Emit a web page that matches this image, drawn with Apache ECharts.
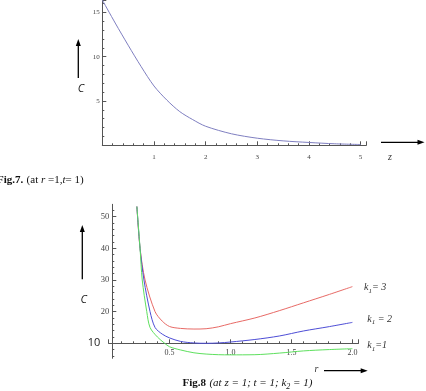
<!DOCTYPE html>
<html><head><meta charset="utf-8">
<script src="https://cdn.jsdelivr.net/npm/echarts@6/dist/echarts.min.js"></script>
<style>html,body{margin:0;padding:0;background:#fff}#c{width:426px;height:391px}</style>
</head><body><div id="c"></div>
<script>
// Fig.7 data: C vs z (r=1, t=1)
const zTop = [0, 0.25, 0.5, 0.75, 1.0, 1.25, 1.5, 1.75, 2.0, 2.5, 3.0, 3.5, 4.0, 4.5, 5.0];
const cTop = [16.4, 13.8, 11.3, 8.9, 6.7, 5.1, 3.8, 2.9, 2.15, 1.3, 0.8, 0.5, 0.32, 0.17, 0.09];
const topXTicks = [1, 2, 3, 4, 5];
const topYTicks = [5, 10, 15];

// Fig.8 data: C vs r for k1 = 3, 2, 1
const rK3 = [0.232, 0.258, 0.299, 0.381, 0.44, 0.5, 0.59, 0.7, 0.8, 0.9, 1.0, 1.2, 1.4, 1.6, 1.8, 2.0];
const cK3 = [53.2, 40, 30, 20, 17.0, 15.3, 14.7, 14.5, 14.6, 15.2, 16.2, 18.0, 20.3, 22.8, 25.3, 27.9];
const rK2 = [0.232, 0.258, 0.290, 0.340, 0.381, 0.44, 0.5, 0.59, 0.7, 0.8, 0.9, 1.0, 1.2, 1.4, 1.6, 1.8, 2.0];
const cK2 = [53.2, 40, 30, 20, 15, 12.9, 11.7, 10.6, 10.1, 10.0, 10.1, 10.4, 11.2, 12.3, 13.9, 15.2, 16.6];
const rK1 = [0.232, 0.258, 0.276, 0.313, 0.34, 0.40, 0.46, 0.5, 0.59, 0.7, 0.8, 0.9, 1.0, 1.2, 1.4, 1.6, 1.8, 2.0];
const cK1 = [53.2, 40, 30, 20, 15, 12.0, 10, 8.9, 7.9, 7.0, 6.6, 6.4, 6.35, 6.4, 6.9, 7.6, 8.0, 8.3];
const botXTicks = [0.5, 1.0, 1.5, 2.0];
const botYTicks = [10, 20, 30, 40, 50];
const botYMinor = [6, 8, 12, 14, 16, 18, 22, 24, 26, 28, 32, 34, 36, 38, 42, 44, 46, 48, 52];

const pairs = (xs, ys) => xs.map((x, i) => [x, ys[i]]);
const SERIF = "'Liberation Serif', 'DejaVu Serif', serif";
const AX = '#555';

const chart = echarts.init(document.getElementById('c'), null, {renderer: 'canvas'});
const near = (v, arr) => arr.some(t => Math.abs(t - v) < 1e-6);

const option = {
  animation: false,
  backgroundColor: '#fff',
  grid: [
    {left: 102.3, top: 0, width: 264, height: 145.3, containLabel: false, outerBoundsMode: 'none'},
    {left: 108.6, top: 204.3, width: 249.9, height: 154, containLabel: false, outerBoundsMode: 'none'}
  ],
  xAxis: [
    {gridIndex: 0, type: 'value', min: 0, max: 5.11, interval: 1,
     axisLine: {lineStyle: {color: AX, width: 1}},
     axisTick: {inside: true, length: 4, lineStyle: {color: AX}},
     minorTick: {show: true, splitNumber: 5, length: 2, lineStyle: {color: AX}},
     splitLine: {show: false}, minorSplitLine: {show: false},
     axisLabel: {margin: 8, fontSize: 7, fontFamily: SERIF, color: '#444', showMaxLabel: false,
       formatter: v => near(v, topXTicks) ? String(Math.round(v)) : ''}},
    {gridIndex: 1, type: 'value', min: 0, max: 2.05, interval: 0.5, offset: -15,
     axisLine: {onZero: false, lineStyle: {color: AX, width: 1}},
     axisTick: {inside: true, length: 4, lineStyle: {color: AX}},
     minorTick: {show: true, splitNumber: 5, length: 2, lineStyle: {color: AX}},
     splitLine: {show: false}, minorSplitLine: {show: false},
     axisLabel: {margin: 6, fontSize: 8, fontFamily: SERIF, color: '#444', showMaxLabel: false,
       formatter: v => near(v, botXTicks) ? v.toFixed(1) : ''}}
  ],
  yAxis: [
    {gridIndex: 0, type: 'value', min: 0, max: 16.4, interval: 5,
     axisLine: {show: true, onZero: false, lineStyle: {color: AX, width: 1}},
     axisTick: {show: true, inside: true, length: 4, lineStyle: {color: AX}},
     minorTick: {show: true, splitNumber: 5, length: 2, lineStyle: {color: AX}},
     splitLine: {show: false}, minorSplitLine: {show: false},
     axisLabel: {margin: 2.5, fontSize: 7, fontFamily: SERIF, color: '#444', showMaxLabel: false,
       formatter: v => near(v, topYTicks) ? String(Math.round(v)) : ''}},
    {gridIndex: 1, type: 'value', position: 'left', offset: -3.7, min: 5.26, max: 53.9,
     axisLine: {show: true, onZero: false, lineStyle: {color: AX, width: 1}},
     axisTick: {show: true, inside: true, length: 4, customValues: botYTicks, lineStyle: {color: AX}},
     splitLine: {show: false},
     axisLabel: {margin: 3, fontSize: 8.5, fontFamily: SERIF, color: '#444', customValues: botYTicks,
       formatter: v => Math.round(v) === 10 ? '{big|10}' : String(Math.round(v)),
       rich: {big: {fontSize: 11, fontFamily: "'Open Sans', 'Noto Sans', sans-serif", color: '#222', padding: [0, 9, 0, 0]}}}},
    {gridIndex: 1, type: 'value', position: 'left', offset: -3.7, min: 5.26, max: 53.9,
     axisLine: {show: false, onZero: false},
     axisTick: {show: true, inside: true, length: 2, customValues: botYMinor, lineStyle: {color: AX}},
     splitLine: {show: false},
     axisLabel: {show: false}}
  ],
  series: [
    {type: 'line', xAxisIndex: 0, yAxisIndex: 0, data: pairs(zTop, cTop), showSymbol: false, symbol: 'none',
     smooth: 0.3, lineStyle: {color: '#7f7fc0', width: 1}},
    {type: 'line', xAxisIndex: 1, yAxisIndex: 1, data: pairs(rK3, cK3), showSymbol: false, symbol: 'none',
     smooth: 0.3, lineStyle: {color: '#e86a66', width: 1}},
    {type: 'line', xAxisIndex: 1, yAxisIndex: 1, data: pairs(rK2, cK2), showSymbol: false, symbol: 'none',
     smooth: 0.3, lineStyle: {color: '#4d4dd6', width: 1}},
    {type: 'line', xAxisIndex: 1, yAxisIndex: 1, data: pairs(rK1, cK1), showSymbol: false, symbol: 'none',
     smooth: 0.3, lineStyle: {color: '#5ee05e', width: 1}}
  ],
  graphic: [
    // arrows
    {type: 'line', shape: {x1: 78.3, y1: 78, x2: 78.3, y2: 45}, style: {stroke: '#000', lineWidth: 1.3}},
    {type: 'polygon', shape: {points: [[78.3, 39], [75.8, 46], [80.8, 46]]}, style: {fill: '#000'}},
    {type: 'line', shape: {x1: 381, y1: 142.3, x2: 418, y2: 142.3}, style: {stroke: '#000', lineWidth: 1.3}},
    {type: 'polygon', shape: {points: [[424.5, 142.3], [417.5, 139.8], [417.5, 144.8]]}, style: {fill: '#000'}},
    {type: 'line', shape: {x1: 82.3, y1: 279.3, x2: 82.3, y2: 231}, style: {stroke: '#000', lineWidth: 1.3}},
    {type: 'polygon', shape: {points: [[82.3, 225], [79.8, 232], [84.8, 232]]}, style: {fill: '#000'}},
    {type: 'line', shape: {x1: 324, y1: 370.7, x2: 361, y2: 370.7}, style: {stroke: '#000', lineWidth: 1.3}},
    {type: 'polygon', shape: {points: [[367.7, 370.7], [360.7, 368.2], [360.7, 373.2]]}, style: {fill: '#000'}},
    // axis names
    {type: 'text', x: 81, y: 89, style: {text: 'C', font: "italic 11px 'Open Sans', sans-serif", fill: '#222', align: 'center', verticalAlign: 'middle', textAlign: 'center', textVerticalAlign: 'middle'}},
    {type: 'text', x: 83.7, y: 299.7, style: {text: 'C', font: "italic 11px 'Open Sans', sans-serif", fill: '#222', align: 'center', verticalAlign: 'middle', textAlign: 'center', textVerticalAlign: 'middle'}},
    {type: 'text', x: 390, y: 157, style: {text: 'z', font: "italic 10px 'Liberation Serif', serif", fill: '#333', align: 'center', verticalAlign: 'middle', textAlign: 'center', textVerticalAlign: 'middle'}},
    {type: 'text', x: 316.5, y: 369, style: {text: 'r', font: "italic 10px 'Liberation Serif', serif", fill: '#333', align: 'center', verticalAlign: 'middle', textAlign: 'center', textVerticalAlign: 'middle'}},
    // captions
    {type: 'text', x: -3, y: 180, style: {
      text: '{b|Fig.7.} {n|(at }{i|r}{n| =1,}{i|t}{n|= 1)}',
      align: 'left', verticalAlign: 'middle', textAlign: 'left', textVerticalAlign: 'middle',
      rich: {
        b: {fontFamily: SERIF, fontWeight: 'bold', fontSize: 11, fill: '#111', color: '#111'},
        n: {fontFamily: SERIF, fontSize: 11, fill: '#111', color: '#111'},
        i: {fontFamily: SERIF, fontStyle: 'italic', fontSize: 11, fill: '#111', color: '#111'}
      }}},
    {type: 'text', x: 247.5, y: 383.5, style: {
      text: '{b|Fig.8} {i|(at z = 1; t = 1; k}{s|2}{i| = 1)}',
      align: 'center', verticalAlign: 'middle', textAlign: 'center', textVerticalAlign: 'middle',
      rich: {
        b: {fontFamily: SERIF, fontWeight: 'bold', fontSize: 11, fill: '#111', color: '#111', lineHeight: 14, verticalAlign: 'middle'},
        i: {fontFamily: SERIF, fontStyle: 'italic', fontSize: 11, fill: '#111', color: '#111', lineHeight: 14, verticalAlign: 'middle'},
        s: {fontFamily: SERIF, fontStyle: 'italic', fontSize: 8, fill: '#111', color: '#111', lineHeight: 14, verticalAlign: 'bottom'}
      }}},
    // curve labels
    {type: 'text', x: 364, y: 287.7, style: {
      text: '{i|k}{s|1}{i|= 3}', align: 'left', verticalAlign: 'middle', textAlign: 'left', textVerticalAlign: 'middle',
      rich: {
        i: {fontFamily: SERIF, fontStyle: 'italic', fontSize: 10, fill: '#333', color: '#333', lineHeight: 13, verticalAlign: 'middle'},
        s: {fontFamily: SERIF, fontStyle: 'italic', fontSize: 7, fill: '#333', color: '#333', lineHeight: 13, verticalAlign: 'bottom'}
      }}},
    {type: 'text', x: 367.3, y: 319.3, style: {
      text: '{i|k}{s|1}{i| = 2}', align: 'left', verticalAlign: 'middle', textAlign: 'left', textVerticalAlign: 'middle',
      rich: {
        i: {fontFamily: SERIF, fontStyle: 'italic', fontSize: 10, fill: '#333', color: '#333', lineHeight: 13, verticalAlign: 'middle'},
        s: {fontFamily: SERIF, fontStyle: 'italic', fontSize: 7, fill: '#333', color: '#333', lineHeight: 13, verticalAlign: 'bottom'}
      }}},
    {type: 'text', x: 367.3, y: 345.7, style: {
      text: '{i|k}{s|1}{i|=1}', align: 'left', verticalAlign: 'middle', textAlign: 'left', textVerticalAlign: 'middle',
      rich: {
        i: {fontFamily: SERIF, fontStyle: 'italic', fontSize: 10, fill: '#333', color: '#333', lineHeight: 13, verticalAlign: 'middle'},
        s: {fontFamily: SERIF, fontStyle: 'italic', fontSize: 7, fill: '#333', color: '#333', lineHeight: 13, verticalAlign: 'bottom'}
      }}}
  ]
};
chart.setOption(option);
</script>
</body></html>
